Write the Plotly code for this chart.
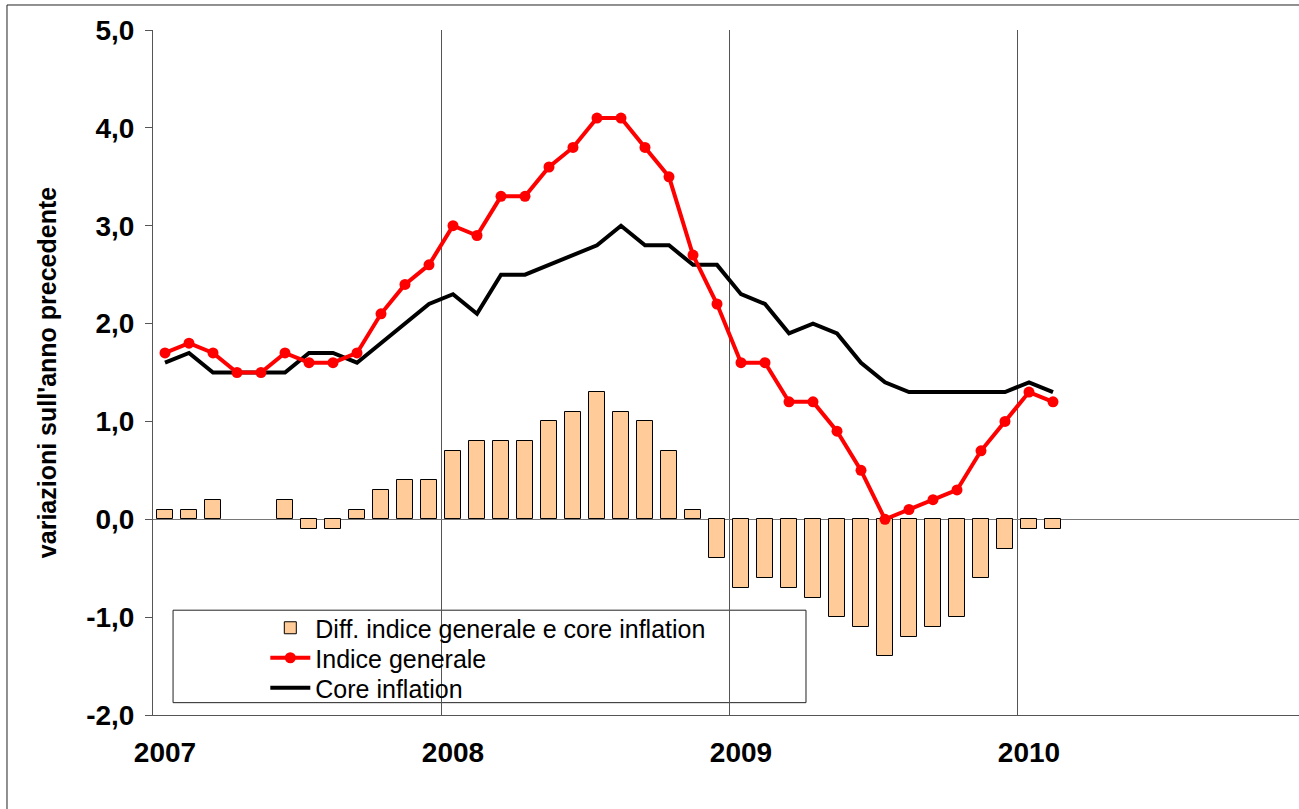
import plotly.graph_objects as go

# monthly data, Jan 2007 - Feb 2010
months = list(range(38))
indice_generale = [
    1.7, 1.8, 1.7, 1.5, 1.5, 1.7, 1.6, 1.6, 1.7, 2.1, 2.4, 2.6,
    3.0, 2.9, 3.3, 3.3, 3.6, 3.8, 4.1, 4.1, 3.8, 3.5, 2.7, 2.2,
    1.6, 1.6, 1.2, 1.2, 0.9, 0.5, 0.0, 0.1, 0.2, 0.3, 0.7, 1.0,
    1.3, 1.2,
]
core_inflation = [
    1.6, 1.7, 1.5, 1.5, 1.5, 1.5, 1.7, 1.7, 1.6, 1.8, 2.0, 2.2,
    2.3, 2.1, 2.5, 2.5, 2.6, 2.7, 2.8, 3.0, 2.8, 2.8, 2.6, 2.6,
    2.3, 2.2, 1.9, 2.0, 1.9, 1.6, 1.4, 1.3, 1.3, 1.3, 1.3, 1.3,
    1.4, 1.3,
]
differenza = [
    0.1, 0.1, 0.2, 0.0, 0.0, 0.2, -0.1, -0.1, 0.1, 0.3, 0.4, 0.4,
    0.7, 0.8, 0.8, 0.8, 1.0, 1.1, 1.3, 1.1, 1.0, 0.7, 0.1, -0.4,
    -0.7, -0.6, -0.7, -0.8, -1.0, -1.1, -1.4, -1.2, -1.1, -1.0, -0.6, -0.3,
    -0.1, -0.1,
]
year_ticks = [0, 12, 24, 36]
year_labels = ["2007", "2008", "2009", "2010"]
y_ticks = [-2, -1, 0, 1, 2, 3, 4, 5]
y_labels = ["-2,0", "-1,0", "0,0", "1,0", "2,0", "3,0", "4,0", "5,0"]

x = [m + 0.5 for m in months]
font = "Liberation Sans, Arial, sans-serif"

fig = go.Figure()
fig.add_trace(
    go.Bar(
        x=x,
        y=differenza,
        name="Diff. indice generale e core inflation",
        width=0.66,
        marker=dict(
            color="#FFCC99",
            line=dict(color="black", width=[0 if v == 0 else 1 for v in differenza]),
        ),
        legend="legend",
    )
)
fig.add_trace(
    go.Scatter(
        x=x,
        y=core_inflation,
        name="Core inflation",
        mode="lines",
        line=dict(color="black", width=4),
        legend="legend3",
    )
)
fig.add_trace(
    go.Scatter(
        x=x,
        y=indice_generale,
        name="Indice generale",
        mode="lines+markers",
        line=dict(color="#FF0000", width=4),
        marker=dict(color="#FF0000", size=11),
        legend="legend2",
    )
)

# legend frame and outer border
fig.add_shape(
    type="rect", xref="paper", yref="paper",
    x0=0.0175, x1=0.5698, y0=0.018, y1=0.153,
    line=dict(color="#222", width=1), fillcolor="white", layer="below",
)
fig.add_shape(
    type="rect", xref="paper", yref="paper",
    x0=-0.1274, x1=1.2, y0=-0.3, y1=1.0365,
    line=dict(color="#222", width=1),
)

legend_style = dict(
    x=0.098, xanchor="left", yanchor="middle",
    bgcolor="rgba(0,0,0,0)", borderwidth=0,
    font=dict(size=25, family=font),
    itemwidth=40,
)

fig.update_layout(
    width=1299,
    height=809,
    margin=dict(l=153, r=0, t=30, b=94),
    paper_bgcolor="white",
    plot_bgcolor="white",
    font=dict(family=font, color="black"),
    bargap=0,
    showlegend=True,
    legend=dict(legend_style, y=0.127),
    legend2=dict(legend_style, y=0.0832),
    legend3=dict(legend_style, y=0.0394),
    xaxis=dict(
        range=[0, 47.75],
        tickvals=year_ticks,
        ticktext=year_labels,
        showgrid=True,
        gridcolor="#555",
        gridwidth=1,
        showline=True,
        linecolor="#555",
        linewidth=1,
        ticks="",
        zeroline=False,
        tickfont=dict(size=28, family=font, weight="bold"),
        ticklabelstandoff=12,
        ticklabelshift=12,
    ),
    yaxis=dict(
        range=[-2, 5],
        tickvals=y_ticks,
        ticktext=y_labels,
        showgrid=False,
        showline=True,
        linecolor="#555",
        linewidth=1,
        ticks="outside",
        ticklen=7,
        tickcolor="#555",
        zeroline=True,
        zerolinecolor="#777",
        zerolinewidth=1,
        tickfont=dict(size=28, family=font, weight="bold"),
        ticklabelstandoff=5,
        title=dict(
            text="variazioni sull'anno precedente",
            font=dict(size=25, family=font, weight="bold"),
            standoff=22,
        ),
    ),
)

fig.write_html(
    "out.html",
    config={"displayModeBar": False},
    post_script="document.body.style.margin = '0';",
)
